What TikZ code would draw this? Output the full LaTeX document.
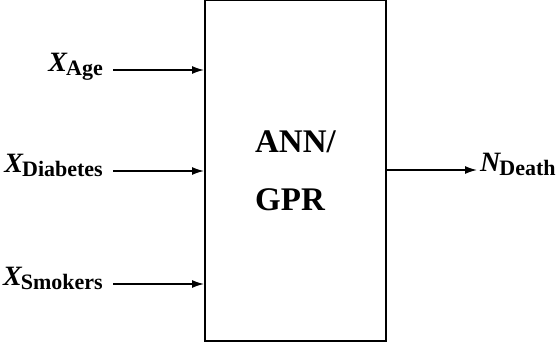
\documentclass[tikz,border=0pt]{standalone}
\usepackage{fontspec}
\setmainfont{Liberation Serif}
\usetikzlibrary{arrows.meta}
\newcommand{\invar}[2]{{\fontsize{28}{28}\selectfont\bfseries\itshape #1}\kern-1pt\raisebox{-4pt}{\fontsize{22}{22}\selectfont\bfseries #2}}

\begin{document}
\begin{tikzpicture}[x=1pt, y=-1pt,
                    lab/.style={inner sep=0pt},
                    arr/.style={-{Latex[length=12pt, width=8pt]}, line width=1.4pt}]
                \useasboundingbox (0,0) rectangle (560,345);
                \node[draw, line width=2pt, minimum width=181pt, minimum height=341pt, align=left,
                      font=\fontsize{33}{58}\selectfont\bfseries] (model) at (295.5,170.5) {ANN/\\GPR};
                \node[lab, anchor=base east] (age) at (103,71.5) {\invar{X}{Age}};
                \node[lab, anchor=base east] (diab) at (103,172.5) {\invar{X}{Diabetes}};
                \node[lab, anchor=base east] (smok) at (103,285.5) {\invar{X}{Smokers}};
                \node[lab, anchor=base west] (death) at (480,171.5) {\invar{N}{Death}};
                \coordinate (a1) at ([xshift=10pt, yshift=1.5pt]age.base east);
                \coordinate (a2) at ([xshift=10pt, yshift=1.5pt]diab.base east);
                \coordinate (a3) at ([xshift=10pt, yshift=1.5pt]smok.base east);
                \coordinate (b1) at ([xshift=-3pt, yshift=1.5pt]death.base west);
                \draw[arr] (a1) -- (a1 -| model.west);
                \draw[arr] (a2) -- (a2 -| model.west);
                \draw[arr] (a3) -- (a3 -| model.west);
                \draw[arr] (model.east |- b1) -- (b1);
\end{tikzpicture}
\end{document}
